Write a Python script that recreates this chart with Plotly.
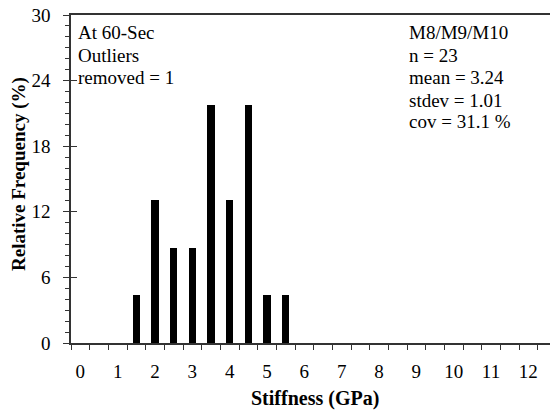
import plotly.graph_objects as go

# Data
bin_centers = [1.5, 2.0, 2.5, 3.0, 3.5, 4.0, 4.5, 5.0, 5.5]
rel_freq = [4.35, 13.04, 8.70, 8.70, 21.74, 13.04, 21.74, 4.35, 4.35]
x_tick_vals = list(range(0, 13))
x_tick_text = [str(v) for v in x_tick_vals]
y_tick_vals = [0, 6, 12, 18, 24, 30]
left_notes = ["At 60-Sec", "Outliers", "removed = 1"]
right_notes = ["M8/M9/M10", "n = 23", "mean = 3.24", "stdev = 1.01", "cov = 31.1 %"]

FONT = '"Liberation Serif", "Times New Roman", serif'
FS = 19
FS_TITLE = 20
W, H = 550, 414
ML, MR, MT, MB = 71, 0, 15, 71
PW = W - ML - MR
PH = H - MT - MB


def px_x(p):
    return (p - ML) / PW


def px_y(p):
    return (H - MB - p) / PH


fig = go.Figure()
fig.add_trace(go.Bar(x=bin_centers, y=rel_freq, width=0.2,
                     marker=dict(color="black", line=dict(width=0)),
                     showlegend=False, hoverinfo="skip"))
# invisible trace to activate the overlaying y axis (cross ticks)
fig.add_trace(go.Scatter(x=[None], y=[None], yaxis="y2", showlegend=False))

axis_color = "#333333"
fig.update_layout(
    width=W, height=H,
    margin=dict(l=ML, r=MR, t=MT, b=MB, pad=0),
    paper_bgcolor="white", plot_bgcolor="white",
    font=dict(family=FONT, size=FS, color="black"),
    bargap=0,
    xaxis=dict(
        range=[-0.25, 12.58], showgrid=False, zeroline=False,
        showline=True, linecolor=axis_color, linewidth=1.5, mirror=True,
        tickmode="array", tickvals=x_tick_vals, ticktext=x_tick_text,
        ticks="", ticklabelstandoff=10,
        tickfont=dict(family=FONT, size=FS, color="black"),
        minor=dict(tick0=0.25, dtick=0.5, ticks="outside", ticklen=5,
                   tickcolor=axis_color, tickwidth=1.3, showgrid=False),
    ),
    yaxis=dict(
        range=[0, 30], showgrid=False, zeroline=False,
        showline=True, linecolor=axis_color, linewidth=1.5, mirror=False,
        tickmode="array", tickvals=y_tick_vals,
        ticks="outside", ticklen=6, tickcolor=axis_color, tickwidth=1.3,
        ticklabelstandoff=9,
        tickfont=dict(family=FONT, size=FS, color="black"),
        minor=dict(dtick=1, ticks="outside", ticklen=4,
                   tickcolor=axis_color, tickwidth=1.3, showgrid=False),
    ),
    yaxis2=dict(
        overlaying="y", anchor="x", side="left", range=[0, 30],
        showgrid=False, zeroline=False, showline=False,
        tickmode="array", tickvals=y_tick_vals, showticklabels=False,
        ticks="inside", ticklen=6, tickcolor=axis_color, tickwidth=1.3,
    ),
)

line_y = [32, 55, 77.5, 100, 122]
for i, t in enumerate(left_notes):
    fig.add_annotation(text=t, xref="paper", yref="paper",
                       x=px_x(76), y=px_y(line_y[i]), xanchor="left", yanchor="middle",
                       showarrow=False, font=dict(family=FONT, size=FS, color="black"))
for i, t in enumerate(right_notes):
    fig.add_annotation(text=t, xref="paper", yref="paper",
                       x=px_x(407), y=px_y(line_y[i]), xanchor="left", yanchor="middle",
                       showarrow=False, font=dict(family=FONT, size=FS, color="black"))

fig.add_annotation(text="<b>Stiffness (GPa)</b>", xref="paper", yref="paper",
                   x=px_x(315), y=px_y(398), xanchor="center", yanchor="middle",
                   showarrow=False, font=dict(family=FONT, size=FS_TITLE, color="black"))
fig.add_annotation(text="<b>Relative Frequency (%)</b>", xref="paper", yref="paper",
                   x=px_x(19), y=px_y(174), xanchor="center", yanchor="middle",
                   textangle=-90, showarrow=False,
                   font=dict(family=FONT, size=FS, color="black"))

fig.write_html("out.html")
